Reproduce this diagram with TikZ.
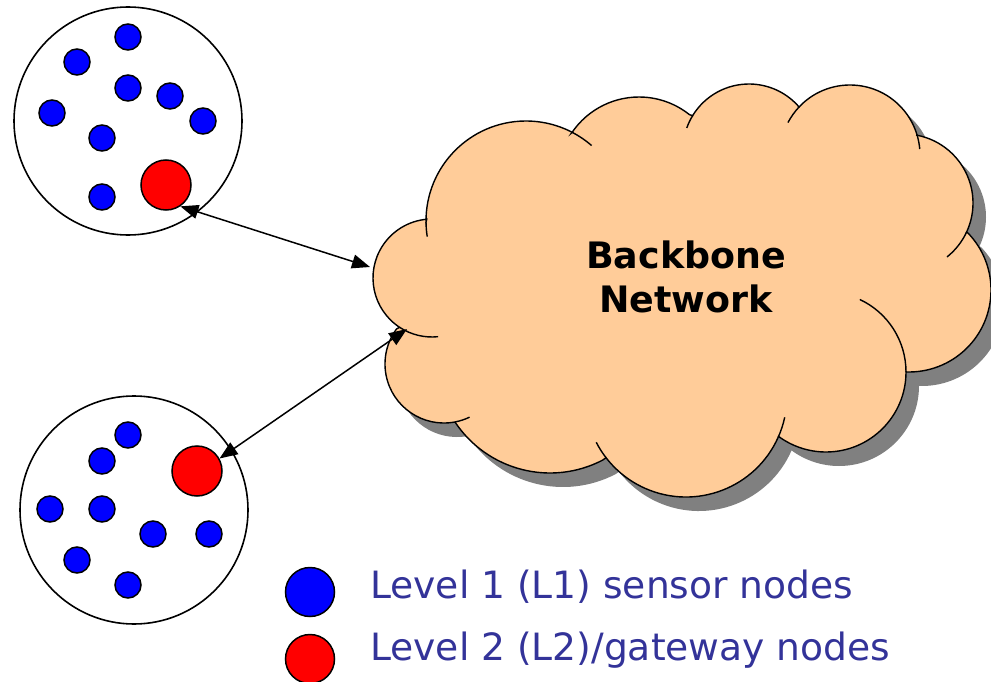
\documentclass[tikz,border=0pt]{standalone}
\usepackage{fontspec}
\setmainfont{DejaVu Sans}
\usetikzlibrary{positioning,arrows.meta}
\definecolor{peach}{HTML}{FFCC99}
\definecolor{legblue}{HTML}{333399}
\definecolor{shadowgray}{HTML}{808080}

% one bump of the cloud: centre x, centre y, start angle, end angle, radius
\newcommand{\bump}[5]{-- ([shift={(#1,#2)}]#3:#5) arc[start angle=#3,end angle=#4,radius=#5]}
\newcommand{\cloudpath}{(426,222)
  \bump{526}{221}{179.4}{297.6}{100}
  \bump{639}{178}{213.9}{308.6}{81}
  \bump{749}{150}{211.4}{316.8}{66}
  \bump{850}{155}{223.3}{343.4}{70}
  \bump{904}{203}{280.8}{385.1}{69}
  \bump{909}{290}{-44}{92.1}{82}
  \bump{826}{372}{0}{126.4}{80}
  \bump{686}{396}{24}{142.4}{101}
  \bump{550}{359}{62.3}{146.4}{114}
  \bump{444}{364}{79.3}{216.5}{59}
  \bump{432}{278}{123.2}{264.9}{59} -- cycle}

\begin{document}
\begin{tikzpicture}[x=1pt, y=-1pt,
  sensor/.style={circle, draw, line width=1.5pt, fill=blue, inner sep=0pt, minimum size=26pt},
  gateway/.style={circle, draw, line width=1.5pt, fill=red, inner sep=0pt, minimum size=50pt},
  cluster/.style={circle, draw, line width=1.6pt, inner sep=0pt, minimum size=228pt},
  legtext/.style={anchor=base west, inner sep=0pt, text=legblue, font=\fontsize{37.6}{44}\selectfont},
  link/.style={{Triangle[length=18pt,width=14pt]}-{Triangle[length=18pt,width=14pt]}, line width=1.5pt}
]
  \useasboundingbox (0,0) rectangle (991,682);

  % backbone cloud with its shadow
  \fill[shadowgray, shift={(13,14)}] \cloudpath;
  \filldraw[fill=peach, line width=1.4pt] \cloudpath;
  \foreach \cx/\cy/\r/\a/\b in {526/221/100/179.4/171, 526/221/100/297.6/311,
      749/150/66/211.4/199.5, 850/155/70/223.3/207.6, 850/155/70/343.4/355.1,
      904/203/69/25.1/51.5, 826/372/80/0/-65, 686/396/101/24/12.2,
      686/396/101/142.4/152.7, 444/364/59/79.3/64.3, 432/278/59/123.2/84}
    \draw[line width=1.4pt] ([shift={(\cx,\cy)}]\a:\r) arc[start angle=\a, end angle=\b, radius=\r];
  \node[font=\bfseries\fontsize{36.4}{44}\selectfont, align=center] (bb) at (686,277) {Backbone\\Network};

  % upper cluster
  \node[cluster] (c1) at (128,121) {};
  \node[sensor] (a1) at (128,37) {};
  \node[sensor] (a2) at (77,62) {};
  \node[sensor] (a3) at (128,88) {};
  \node[sensor] (a4) at (170,96) {};
  \node[sensor] (a5) at (52,113) {};
  \node[sensor] (a6) at (203,121) {};
  \node[sensor] (a7) at (102,138) {};
  \node[sensor] (a8) at (102,197) {};
  \node[gateway] (g1) at (166,185) {};

  % lower cluster
  \node[cluster] (c2) at (134,510) {};
  \node[sensor] (b1) at (128,435) {};
  \node[sensor] (b2) at (102,461) {};
  \node[sensor] (b3) at (50,509) {};
  \node[sensor] (b4) at (102,509) {};
  \node[sensor] (b5) at (153,534) {};
  \node[sensor] (b6) at (209,534) {};
  \node[sensor] (b7) at (77,560) {};
  \node[sensor] (b8) at (128,585) {};
  \node[gateway] (g2) at (197,471) {};

  % links to the backbone
  \coordinate (in1) at (370,267);
  \coordinate (in2) at (407,329);
  \draw[link] (g1.-56) -- (in1);
  \draw[link] (g2.29) -- (in2);

  % legend
  \node[sensor, minimum size=49pt] (k1) at (310,592) {};
  \node[gateway, minimum size=49pt] (k2) at (310,659) {};
  \node[legtext] (t1) at (370,598) {Level 1 (L1) sensor nodes};
  \node[legtext] (t2) at (370,660) {Level 2 (L2)/gateway nodes};
\end{tikzpicture}
\end{document}
